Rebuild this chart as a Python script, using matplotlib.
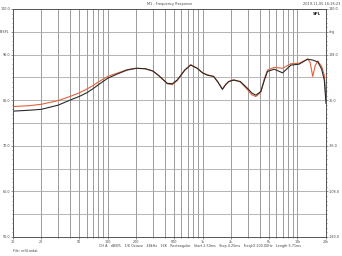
import numpy as np
import matplotlib
matplotlib.use('Agg')
import matplotlib.pyplot as plt
from matplotlib.ticker import FixedLocator, NullFormatter, MultipleLocator

# frequency points (Hz)
freq = [10, 15, 20, 30, 40, 50, 60, 70, 80, 100, 125, 160, 200, 250, 300, 350, 425, 480,
        540, 650, 750, 880, 1000, 1120, 1310, 1450, 1620, 1750, 1890, 2130, 2500,
        2980, 3300, 3640, 4110, 4500, 4840, 5690, 6980, 8540, 10400, 12800,
        13600, 14500, 15400, 16400, 18000, 19200, 20000]

# measurement 1 (black)
spl_a = [77.6, 77.8, 78.0, 78.9, 80.0, 80.8, 81.6, 82.5, 83.4, 84.8, 85.7, 86.6, 87.0, 86.9, 86.4,
         85.3, 83.7, 83.6, 84.4, 86.6, 87.7, 87.0, 86.0, 85.5, 85.2, 84.0, 82.4, 83.4,
         84.1, 84.4, 84.1, 82.6, 81.6, 81.1, 81.9, 84.5, 86.3, 86.8, 86.0, 87.7, 87.9,
         89.0, 88.9, 88.8, 88.6, 88.4, 86.8, 84.4, 79.3]

# measurement 2 (red)
spl_b = [78.6, 78.8, 79.1, 79.9, 80.8, 81.6, 82.4, 83.2, 84.0, 85.2, 85.9, 86.7, 87.0, 86.9, 86.4,
         85.3, 83.6, 83.4, 84.3, 86.6, 87.8, 87.0, 86.0, 85.6, 85.2, 84.0, 82.4, 83.4,
         84.1, 84.5, 84.0, 82.3, 81.2, 80.8, 81.7, 84.8, 86.6, 87.2, 87.0, 88.0, 88.1,
         89.0, 88.3, 85.2, 87.6, 88.6, 87.4, 85.5, 80.0]

xticks = [10, 20, 50, 100, 200, 500, 1000, 2000, 5000, 10000, 20000]
xticklabels = ['10', '20', '50', '100', '200', '500', '1k', '2k', '5k', '10k', '20k']
xgrid = [v * m for m in (10, 100, 1000) for v in range(1, 10)] + [10000, 20000]

yticks = [100, 95, 90, 80, 70, 60, 50]
yticklabels = ['100.0', 'dBSPL', '90.0', '80.0', '70.0', '60.0', '50.0']
phase_labels = ['180.0', 'deg', '108.0', '36.0', '-36.0', '-108.0', '-180.0']

fig = plt.figure(figsize=(3.42, 2.56), dpi=100)
ax = fig.add_axes([12.7 / 342, 1 - 237 / 256, (326 - 12.7) / 342, 228 / 256])

ax.set_xscale('log')
ax.set_xlim(10, 20000)
ax.set_ylim(50, 100)

for v in xgrid:
    ax.axvline(v, color='#8c8c8c', lw=0.6, zorder=1)
for v in range(55, 100, 5):
    ax.axhline(v, color='#a8a8a8', lw=0.6, zorder=1)

ax.plot(freq, spl_b, color='#e0643a', lw=0.8, zorder=3)
ax.plot(freq, spl_a, color='#2a2a2a', lw=0.8, zorder=4)

ax.xaxis.set_major_locator(FixedLocator(xticks))
ax.set_xticklabels(xticklabels)
ax.xaxis.set_minor_locator(FixedLocator(xgrid))
ax.xaxis.set_minor_formatter(NullFormatter())
ax.set_yticks(yticks)
ax.set_yticklabels(yticklabels)
ax.yaxis.set_minor_locator(MultipleLocator(1))
ax.tick_params(which='both', labelsize=2.4, colors='#444444', length=1.5, width=0.4,
               pad=0.6, direction='out')
ax.tick_params(which='minor', length=1.0)

ax2 = ax.twinx()
ax2.set_ylim(50, 100)
ax2.set_yticks(yticks)
ax2.set_yticklabels(phase_labels)
ax2.yaxis.set_minor_locator(MultipleLocator(1))
ax2.tick_params(which='both', labelsize=2.4, colors='#444444', length=1.5, width=0.4,
                pad=0.6, direction='out')
ax2.tick_params(which='minor', length=1.0)

for a in (ax, ax2):
    for s in a.spines.values():
        s.set_color('#555555')
        s.set_linewidth(0.6)

fig.text(170 / 342, 1 - 4 / 256, 'M1 - Frequency Response', fontsize=2.5,
         color='#444444', ha='center', va='center')
fig.text(322 / 342, 1 - 4 / 256, '2019-11-05 16:26:23', fontsize=2.5,
         color='#444444', ha='center', va='center')
ax.text(0.985, 0.985, 'SPL', transform=ax.transAxes, fontsize=2.8, weight='bold',
        color='#222222', ha='right', va='top', zorder=6)
fig.text(99 / 342, 1 - 246 / 256,
         'CH A   dBSPL   1/6 Octave   48kHz   16K   Rectangular   Start 2.50ms   '
         'Stop 4.25ms   FreqLO 200.00Hz   Length 5.71ms',
         fontsize=2.4, color='#444444', ha='left', va='center')
fig.text(13 / 342, 1 - 251.5 / 256, 'File: ref4.mdat', fontsize=2.4,
         color='#444444', ha='left', va='center')

fig.savefig('out.png', dpi=100)
